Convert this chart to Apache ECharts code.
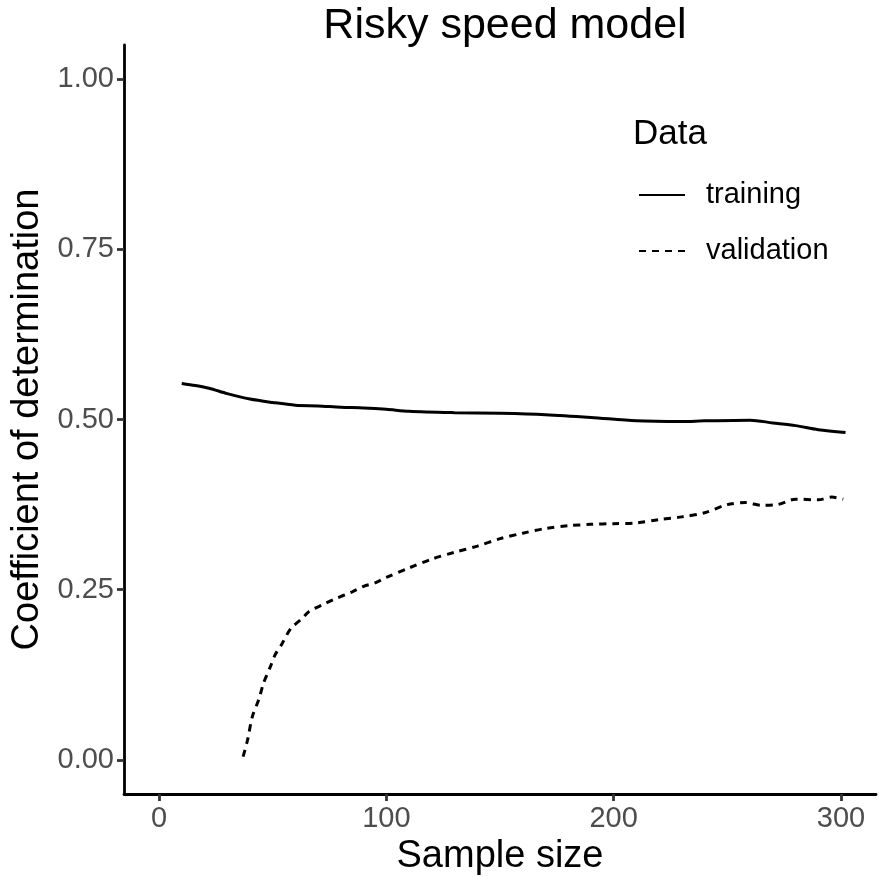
<!DOCTYPE html>
<html>
<head>
<meta charset="utf-8">
<script src="https://cdn.jsdelivr.net/npm/echarts@6/dist/echarts.min.js"></script>
<style>
  html, body { margin: 0; padding: 0; background: #fff; }
  #main { width: 879px; height: 877px; }
</style>
</head>
<body>
<div id="main"></div>
<script>
var xTicks = [0, 100, 200, 300];
var yTicks = [0, 0.25, 0.5, 0.75, 1];

var trainingX = [10, 16, 22, 30, 40, 50, 60, 70, 80, 90, 100, 110, 130, 150, 170, 190, 210, 230, 240, 260, 270, 280, 290, 302];
var trainingY = [0.553, 0.550, 0.546, 0.538, 0.530, 0.525, 0.521, 0.520, 0.518, 0.517, 0.515, 0.512, 0.510, 0.509, 0.507, 0.503, 0.498, 0.497, 0.498, 0.499, 0.495, 0.491, 0.485, 0.481];

var validationX = [37, 39, 41, 44, 46, 49, 51, 54, 58, 63, 66, 72, 77, 85, 90, 95, 100, 110, 120, 130, 140, 150, 160, 170, 180, 190, 200, 210, 220, 230, 240, 250, 258, 265, 272, 280, 290, 296, 301];
var validationY = [0.005, 0.030, 0.063, 0.090, 0.113, 0.137, 0.154, 0.170, 0.193, 0.208, 0.218, 0.228, 0.236, 0.247, 0.255, 0.260, 0.268, 0.282, 0.295, 0.305, 0.314, 0.325, 0.333, 0.340, 0.344, 0.346, 0.347, 0.348, 0.353, 0.357, 0.363, 0.375, 0.378, 0.374, 0.375, 0.383, 0.382, 0.386, 0.383];

function pairs(xs, ys) {
  return xs.map(function (x, i) { return [x, ys[i]]; });
}

var chart = echarts.init(document.getElementById('main'));
var font = 'Liberation Sans, Arial, Helvetica, sans-serif';

function legendBox(name, top) {
  return {
    orient: 'vertical',
    left: 638, top: top,
    padding: 0,
    itemWidth: 46, itemHeight: 14,
    itemStyle: { opacity: 0 },
    textStyle: { fontFamily: font, fontSize: 29, lineHeight: 32, color: '#000', padding: [0, 0, 0, 16] },
    data: [name]
  };
}

var option = {
  backgroundColor: '#fff',
  animation: false,
  title: [
    {
      text: 'Risky speed model',
      left: 500, top: 0,
      textAlign: 'center',
      textStyle: { fontFamily: font, fontSize: 43, fontWeight: 'normal', color: '#000' }
    },
    {
      text: 'Data',
      left: 628, top: 112,
      textStyle: { fontFamily: font, fontSize: 35, fontWeight: 'normal', color: '#000' }
    }
  ],
  legend: [legendBox('training', 179), legendBox('validation', 235)],
  grid: { left: 124, right: 3, top: 45, bottom: 83, containLabel: false, outerBoundsMode: 'none' },
  xAxis: {
    type: 'value',
    min: -15.4, max: 315.4,
    name: 'Sample size',
    nameLocation: 'middle',
    nameGap: 44,
    nameTextStyle: { fontFamily: font, fontSize: 38, color: '#000' },
    splitLine: { show: false },
    axisLine: { onZero: false, lineStyle: { color: '#000', width: 2.8 } },
    axisTick: { customValues: xTicks, length: 7, lineStyle: { color: '#333', width: 2.8 } },
    axisLabel: { customValues: xTicks, margin: 10, fontFamily: font, fontSize: 29, color: '#4d4d4d' }
  },
  yAxis: {
    type: 'value',
    min: -0.05, max: 1.05,
    name: 'Coefficient of determination',
    nameLocation: 'middle',
    nameGap: 77,
    nameTextStyle: { fontFamily: font, fontSize: 38, color: '#000' },
    splitLine: { show: false },
    axisLine: { onZero: false, lineStyle: { color: '#000', width: 2.8 } },
    axisTick: { customValues: yTicks, length: 7, lineStyle: { color: '#333', width: 2.8 } },
    axisLabel: {
      customValues: yTicks, margin: 10, fontFamily: font, fontSize: 29, color: '#4d4d4d',
      formatter: function (v) { return v.toFixed(2); }
    }
  },
  series: [
    {
      name: 'training',
      type: 'line',
      smooth: 0.3,
      symbol: 'none',
      lineStyle: { color: '#000', width: 3, type: 'solid' },
      itemStyle: { color: '#000' },
      data: pairs(trainingX, trainingY)
    },
    {
      name: 'validation',
      type: 'line',
      smooth: 0.3,
      symbol: 'none',
      lineStyle: { color: '#000', width: 3, type: [7, 6] },
      itemStyle: { color: '#000' },
      data: pairs(validationX, validationY)
    }
  ]
};

chart.setOption(option);
</script>
</body>
</html>
